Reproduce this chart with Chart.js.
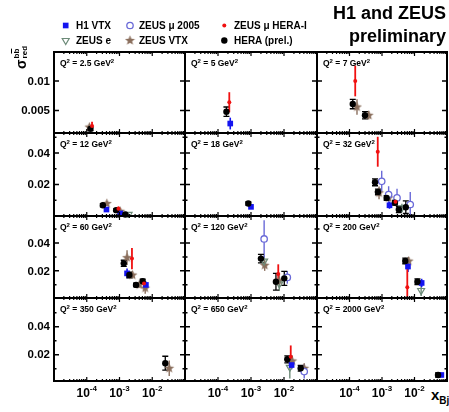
<!DOCTYPE html>
<html>
<head>
<meta charset="utf-8">
<title>Beauty reduced cross section</title>
<script src="https://cdn.jsdelivr.net/npm/chart.js@4.4.1/dist/chart.umd.min.js"></script>
<style>
  html, body { margin: 0; padding: 0; background: #fff; }
  body { position: relative; width: 449px; height: 412px; overflow: hidden;
         font-family: "Liberation Sans", Arial, sans-serif; font-weight: bold; color: #000; }
  canvas { position: absolute; }
  .txt { position: absolute; white-space: nowrap; }
  .title { right: 3px; font-size: 18px; line-height: 18px; text-align: right; }
  .leg { font-size: 10px; line-height: 10px; }
  #ytitle { left: 12px; top: 69px; transform-origin: 0 0; transform: rotate(-90deg);
            font-size: 14px; line-height: 18px; }
  #ytitle .stk { display: inline-block; vertical-align: top; font-size: 8px; line-height: 8px;
                 margin-left: 1px; margin-top: 1px; }
  #ytitle .stk span.row { display: block; }
  .ov { text-decoration: overline; }
  #xtitle { left: 431px; top: 387px; font-size: 15px; line-height: 15px; }
  #xtitle span { font-size: 10px; position: relative; top: 4px; }
</style>
</head>
<body>
<canvas id="legendMarks" width="449" height="52" style="left:0;top:0"></canvas>

<div class="txt title" style="top:4px">H1 and ZEUS</div>
<div class="txt title" style="top:27px">preliminary</div>

<div class="txt leg" style="left:76px;top:21px">H1 VTX</div>
<div class="txt leg" style="left:76px;top:36px">ZEUS e</div>
<div class="txt leg" style="left:139px;top:21px">ZEUS μ 2005</div>
<div class="txt leg" style="left:139px;top:36px">ZEUS VTX</div>
<div class="txt leg" style="left:234px;top:21px">ZEUS μ HERA-I</div>
<div class="txt leg" style="left:234px;top:36px">HERA (prel.)</div>

<div class="txt" id="ytitle">σ<span class="stk"><span class="row">b<span class="ov">b</span></span><span class="row">red</span></span></div>
<div class="txt" id="xtitle">x<span>Bj</span></div>

<script>
// Q² bins, one panel each (read left to right, top to bottom)
const q2Bins = [2.5, 5, 7, 12, 18, 32, 60, 120, 200, 350, 650, 2000];

// y ranges of each panel row
const yMinByRow = [0.0012, 0, 0.0005, 0.0012];
const yMaxByRow = [0.0149, 0.0527, 0.0594, 0.0605];

// axis ticks
const xMajorTicks = [1e-4, 1e-3, 1e-2];
const xTickExponents = ['-4', '-3', '-2'];
const yMajorTop = [0.005, 0.01];
const yLabelsTop = ['0.005', '0.01'];
const yMajorLow = [0.02, 0.04];
const yLabelsLow = ['0.02', '0.04'];
const yMinorLow = [0.01, 0.03, 0.05];

// measurements: [Q², x, sigma_red, error]
const h1Vtx = [
  [5, 2.35e-4, 0.0028, 0.0010],
  [12, 4.0e-4, 0.0041, 0.0012], [12, 1.05e-3, 0.0016, 0.0008],
  [18, 1.0e-3, 0.0058, 0.0008],
  [32, 1.7e-3, 0.0068, 0.0022],
  [60, 1.7e-3, 0.0182, 0.0035], [60, 6.4e-3, 0.0099, 0.0025],
  [200, 6.3e-3, 0.0231, 0.0040], [200, 1.66e-2, 0.0113, 0.0030],
  [650, 1.7e-2, 0.0126, 0.0030],
  [2000, 6.7e-2, 0.0055, 0.0015]
];
const zeusE = [
  [12, 1.9e-3, 0.0010, 0.0006],
  [32, 4.1e-3, 0.0052, 0.0025],
  [120, 2.5e-3, 0.0270, 0.0040], [120, 7.2e-3, 0.0106, 0.0050],
  [200, 1.6e-2, 0.0059, 0.0040],
  [650, 1.5e-2, 0.0110, 0.0080]
];
const zeusMu2005 = [
  [32, 9.8e-4, 0.0220, 0.0068], [32, 1.6e-3, 0.0136, 0.0053],
  [32, 2.9e-3, 0.0115, 0.0058], [32, 7.4e-3, 0.0073, 0.0080],
  [120, 2.5e-3, 0.0429, 0.0135], [120, 1.26e-2, 0.0153, 0.0045],
  [650, 4.1e-2, 0.0079, 0.0050]
];
const zeusVtx = [
  [2.5, 1.2e-4, 0.0022, 0.0004],
  [7, 1.7e-4, 0.0056, 0.0013], [7, 3.9e-4, 0.0042, 0.0007],
  [12, 4.1e-4, 0.0079, 0.0015], [12, 1.05e-3, 0.0030, 0.0012],
  [32, 8.1e-4, 0.0147, 0.0040], [32, 1.6e-3, 0.0115, 0.0030],
  [60, 1.7e-3, 0.0295, 0.0053], [60, 2.5e-3, 0.0170, 0.0025],
  [60, 4.0e-3, 0.0099, 0.0020], [60, 6.1e-3, 0.0076, 0.0040],
  [120, 2.6e-3, 0.0240, 0.0040], [120, 7.1e-3, 0.0129, 0.0040],
  [200, 6.6e-3, 0.0270, 0.0030],
  [350, 3.3e-2, 0.0103, 0.0055],
  [650, 1.78e-2, 0.0155, 0.0040], [650, 4.1e-2, 0.0103, 0.0035]
];
const zeusMuHera1 = [
  [2.5, 1.45e-4, 0.0024, 0.0007],
  [5, 2.2e-4, 0.0064, 0.0017],
  [7, 1.5e-4, 0.0100, 0.0026],
  [12, 9.3e-4, 0.0046, 0.0015],
  [32, 7.4e-4, 0.0408, 0.0095], [32, 2.6e-3, 0.0090, 0.0025],
  [60, 2.4e-3, 0.0288, 0.0077], [60, 5.6e-3, 0.0110, 0.0030],
  [120, 6.7e-3, 0.0177, 0.0070],
  [200, 6.0e-3, 0.0083, 0.0140],
  [650, 1.6e-2, 0.0186, 0.0080]
];
const heraPrel = [
  [2.5, 1.3e-4, 0.0019, 0.0003],
  [5, 1.8e-4, 0.0048, 0.0008],
  [7, 1.26e-4, 0.0061, 0.0008], [7, 3.0e-4, 0.0042, 0.0006],
  [12, 3.1e-4, 0.0068, 0.0010], [12, 7.9e-4, 0.0037, 0.0008], [12, 1.5e-3, 0.0010, 0.0005],
  [18, 8.3e-4, 0.0079, 0.0010],
  [32, 6.1e-4, 0.0214, 0.0022], [32, 7.5e-4, 0.0153, 0.0018], [32, 1.39e-3, 0.0115, 0.0015],
  [32, 2.5e-3, 0.0084, 0.0015], [32, 3.3e-3, 0.0041, 0.0020], [32, 5.4e-3, 0.0056, 0.0040],
  [60, 1.35e-3, 0.0254, 0.0022], [60, 2.0e-3, 0.0170, 0.0020],
  [60, 3.2e-3, 0.0099, 0.0012], [60, 5.1e-3, 0.0125, 0.0015],
  [120, 2.0e-3, 0.0288, 0.0030], [120, 5.7e-3, 0.0122, 0.0060], [120, 1.02e-2, 0.0146, 0.0050],
  [200, 5.2e-3, 0.0271, 0.0020], [200, 1.23e-2, 0.0122, 0.0020],
  [350, 2.5e-2, 0.0139, 0.0050],
  [650, 1.26e-2, 0.0167, 0.0025], [650, 3.2e-2, 0.0103, 0.0020],
  [2000, 5.3e-2, 0.0055, 0.0015]
];

const FONT = '"Liberation Sans", Arial, sans-serif';

// filled five-pointed star used as a point style
function makeStar(size, color) {
  const c = document.createElement('canvas');
  c.width = c.height = size;
  const g = c.getContext('2d');
  const r = size / 2;
  g.beginPath();
  for (let k = 0; k < 10; k++) {
    const a = -Math.PI / 2 + k * Math.PI / 5;
    const rr = k % 2 ? r * 0.42 : r - 0.3;
    g.lineTo(r + rr * Math.cos(a), r + rr * Math.sin(a));
  }
  g.closePath();
  g.fillStyle = color;
  g.fill();
  return c;
}

const starImg = makeStar(11, '#8a6e5c');

// drawing order: later entries end up underneath
const series = [
  { name: 'ZEUS μ HERA-I', rows: zeusMuHera1, color: '#f01010', pointStyle: 'circle', radius: 2,
    fill: '#f01010', barWidth: 1.8 },
  { name: 'HERA (prel.)', rows: heraPrel, color: '#000000', pointStyle: 'circle', radius: 3.2,
    fill: '#000000', barWidth: 1.3, caps: true },
  { name: 'H1 VTX', rows: h1Vtx, color: '#1414f0', pointStyle: 'rect', radius: 4,
    fill: '#1414f0', barWidth: 1.6 },
  { name: 'ZEUS μ 2005', rows: zeusMu2005, color: '#6a6ad8', pointStyle: 'circle', radius: 3.2,
    fill: '#ffffff', barWidth: 1.4, borderWidth: 1.3 },
  { name: 'ZEUS e', rows: zeusE, color: '#6c8a78', pointStyle: 'triangle', radius: 4, rotation: 180,
    fill: 'rgba(255,255,255,0)', barWidth: 1.4, borderWidth: 1.2 },
  { name: 'ZEUS VTX', rows: zeusVtx, color: '#8a6e5c', pointStyle: starImg, radius: 5,
    fill: '#8a6e5c', barWidth: 1.4 }
];

// error bars under the markers, then frame, inward ticks and labels on top
const padDecor = {
  id: 'padDecor',
  beforeDatasetsDraw(chart) {
    const { ctx, chartArea: a, scales: { y } } = chart;
    ctx.save();
    ctx.beginPath();
    ctx.rect(a.left, a.top, a.right - a.left, a.bottom - a.top);
    ctx.clip();
    for (let i = chart.data.datasets.length - 1; i >= 0; i--) {
      const ds = chart.data.datasets[i];
      const meta = chart.getDatasetMeta(i);
      ctx.strokeStyle = ds.borderColor;
      ctx.lineWidth = ds.barWidth;
      meta.data.forEach((pt, j) => {
        const d = ds.data[j];
        const y1 = y.getPixelForValue(d.y + d.err);
        const y2 = y.getPixelForValue(d.y - d.err);
        ctx.beginPath();
        ctx.moveTo(pt.x, y1);
        ctx.lineTo(pt.x, y2);
        if (ds.caps) {
          ctx.moveTo(pt.x - 3, y1); ctx.lineTo(pt.x + 3, y1);
          ctx.moveTo(pt.x - 3, y2); ctx.lineTo(pt.x + 3, y2);
        }
        ctx.stroke();
      });
    }
    ctx.restore();
  },
  afterDraw(chart, args, opts) {
    const { ctx, chartArea: a, scales: { x, y } } = chart;
    ctx.save();
    ctx.strokeStyle = '#000';
    ctx.fillStyle = '#000';

    // log x ticks, top and bottom
    ctx.lineWidth = 1.2;
    for (let e = -5; e <= -1; e++) {
      for (let k = 1; k <= 9; k++) {
        const v = k * Math.pow(10, e);
        if (v > x.max * 1.0001) break;
        const px = x.getPixelForValue(v);
        const len = k === 1 ? 4 : 2;
        ctx.beginPath();
        ctx.moveTo(px, a.bottom); ctx.lineTo(px, a.bottom - len);
        ctx.moveTo(px, a.top); ctx.lineTo(px, a.top + len);
        ctx.stroke();
      }
    }

    // y ticks, left and right
    const major = opts.row === 0 ? yMajorTop : yMajorLow;
    const minor = opts.row === 0 ? [] : yMinorLow;
    const yTick = (v, len) => {
      if (v < y.min || v > y.max) return;
      const py = y.getPixelForValue(v);
      ctx.beginPath();
      ctx.moveTo(a.left, py); ctx.lineTo(a.left + len, py);
      ctx.moveTo(a.right, py); ctx.lineTo(a.right - len, py);
      ctx.stroke();
    };
    ctx.lineWidth = 1.5;
    major.forEach(v => yTick(v, 5));
    minor.forEach(v => yTick(v, 2.5));

    // frame
    ctx.lineWidth = 2;
    ctx.strokeRect(a.left, a.top, a.right - a.left, a.bottom - a.top);

    // y tick labels on the first column
    if (opts.col === 0) {
      const labels = opts.row === 0 ? yLabelsTop : yLabelsLow;
      ctx.font = 'bold 11.5px ' + FONT;
      ctx.textAlign = 'right';
      ctx.textBaseline = 'middle';
      major.forEach((v, i) => ctx.fillText(labels[i], a.left - 4, y.getPixelForValue(v) + 0.5));
    }

    // x tick labels on the last row
    if (opts.row === 3) {
      ctx.textBaseline = 'alphabetic';
      ctx.textAlign = 'left';
      xMajorTicks.forEach((v, i) => {
        const px = x.getPixelForValue(v);
        ctx.font = 'bold 12px ' + FONT;
        const wBase = ctx.measureText('10').width;
        ctx.font = 'bold 8px ' + FONT;
        const wExp = ctx.measureText(xTickExponents[i]).width;
        const x0 = px - (wBase + wExp) / 2;
        ctx.font = 'bold 12px ' + FONT;
        ctx.fillText('10', x0, a.bottom + 16);
        ctx.font = 'bold 8px ' + FONT;
        ctx.fillText(xTickExponents[i], x0 + wBase, a.bottom + 10);
      });
    }

    // Q² label
    let tx = a.left + 6;
    const ty = a.top + 14;
    const part = (s, size, dy) => {
      ctx.font = 'bold ' + size + 'px ' + FONT;
      ctx.fillText(s, tx, ty + dy);
      tx += ctx.measureText(s).width;
    };
    ctx.textAlign = 'left';
    ctx.textBaseline = 'alphabetic';
    part('Q', 8.5, 0);
    part('2', 6, -3.5);
    part(' = ' + opts.q2 + ' GeV', 8.5, 0);
    part('2', 6, -3.5);
    ctx.restore();
  }
};

const colEdges = [54, 185, 317, 447];
const rowEdges = [52, 133, 216, 298, 381];
const M = 2;

q2Bins.forEach((q2, p) => {
  const row = Math.floor(p / 3), col = p % 3;
  const left = colEdges[col], right = colEdges[col + 1];
  const top = rowEdges[row], bottom = rowEdges[row + 1];
  const padL = col === 0 ? left : M;
  const padB = row === 3 ? 412 - bottom : M;
  const canvas = document.createElement('canvas');
  canvas.width = right - left + padL + M;
  canvas.height = bottom - top + M + padB;
  canvas.style.left = (left - padL) + 'px';
  canvas.style.top = (top - M) + 'px';
  canvas.style.width = canvas.width + 'px';
  canvas.style.height = canvas.height + 'px';
  document.body.appendChild(canvas);

  const datasets = series.map(s => ({
    label: s.name,
    data: s.rows.filter(r => r[0] === q2).map(r => ({ x: r[1], y: r[2], err: r[3] })),
    pointStyle: s.pointStyle,
    pointRadius: s.radius,
    pointRotation: s.rotation || 0,
    pointBackgroundColor: s.fill,
    pointBorderColor: s.color,
    pointBorderWidth: s.borderWidth || 0,
    borderColor: s.color,
    barWidth: s.barWidth,
    caps: !!s.caps,
    clip: 4
  }));

  new Chart(canvas, {
    type: 'scatter',
    data: { datasets },
    options: {
      responsive: false,
      animation: false,
      events: [],
      layout: { autoPadding: false, padding: { left: padL, right: M, top: M, bottom: padB } },
      plugins: {
        legend: { display: false },
        tooltip: { enabled: false },
        padDecor: { row, col, q2 }
      },
      scales: {
        x: { type: 'logarithmic', min: 1e-5, max: 1e-1, display: false },
        y: { type: 'linear', min: yMinByRow[row], max: yMaxByRow[row], display: false }
      }
    },
    plugins: [padDecor]
  });
});

// legend markers
const lg = document.getElementById('legendMarks').getContext('2d');
const legendSpots = [[65.7, 25.5], [65.7, 40.5], [130, 25.5], [130, 40.5], [224.3, 25.5], [224.3, 40.5]];
const legendOrder = ['H1 VTX', 'ZEUS e', 'ZEUS μ 2005', 'ZEUS VTX', 'ZEUS μ HERA-I', 'HERA (prel.)'];
legendOrder.forEach((name, i) => {
  const s = series.find(t => t.name === name);
  const [lx, ly] = legendSpots[i];
  lg.save();
  lg.fillStyle = s.fill;
  lg.strokeStyle = s.color;
  lg.lineWidth = s.borderWidth || 0;
  Chart.helpers.drawPoint(lg, {
    pointStyle: s.pointStyle,
    radius: s.radius,
    rotation: s.rotation || 0,
    borderWidth: s.borderWidth || 0
  }, lx, ly);
  lg.restore();
});
</script>
</body>
</html>
